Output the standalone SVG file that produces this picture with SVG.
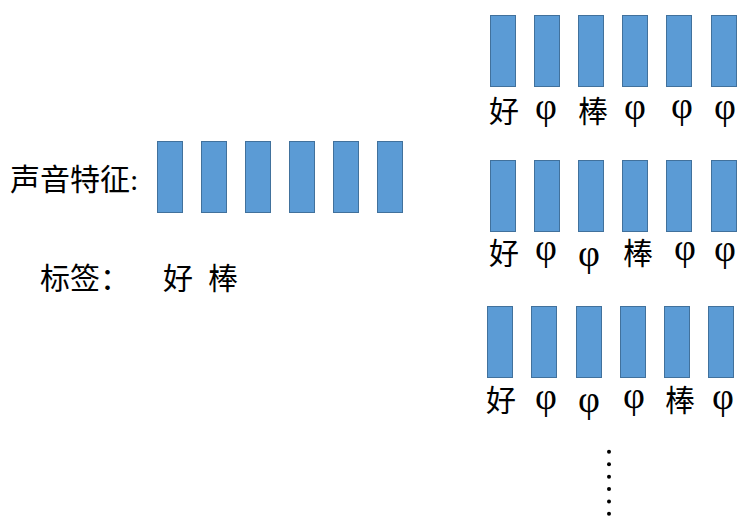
<svg xmlns="http://www.w3.org/2000/svg" width="753" height="528" viewBox="0 0 753 528">
<style>
.bar{fill:#5B9BD5;stroke:#41719C;stroke-width:1}
.t{font-family:"Liberation Serif","Noto Sans CJK SC",serif;font-size:30px;fill:#000}
.p{font-size:38px}
.c{text-anchor:middle}
.dot{fill:#000}
</style>
<rect width="753" height="528" fill="#fff"/>
<g id="input">
<text class="t" x="10" y="190">声音特征:</text>
<rect class="bar" x="157.5" y="141.5" width="25" height="71"/>
<rect class="bar" x="201.5" y="141.5" width="25" height="71"/>
<rect class="bar" x="245.5" y="141.5" width="25" height="71"/>
<rect class="bar" x="289.5" y="141.5" width="25" height="71"/>
<rect class="bar" x="333.5" y="141.5" width="25" height="71"/>
<rect class="bar" x="377.5" y="141.5" width="25" height="71"/>
<text class="t" x="40" y="289">标签：</text>
<text class="t c" x="178" y="289">好</text>
<text class="t c" x="223" y="289">棒</text>
</g>
<g id="align1">
<rect class="bar" x="490.5" y="15.5" width="25" height="71"/>
<rect class="bar" x="534.5" y="15.5" width="25" height="71"/>
<rect class="bar" x="578.5" y="15.5" width="25" height="71"/>
<rect class="bar" x="622.5" y="15.5" width="25" height="71"/>
<rect class="bar" x="666.5" y="15.5" width="25" height="71"/>
<rect class="bar" x="711.5" y="15.5" width="25" height="71"/>
<text class="t c" x="504" y="122">好</text>
<text class="t p c" x="546" y="119">φ</text>
<text class="t c" x="593" y="122">棒</text>
<text class="t p c" x="635" y="119">φ</text>
<text class="t p c" x="682" y="118">φ</text>
<text class="t p c" x="725" y="119">φ</text>
</g>
<g id="align2">
<rect class="bar" x="490.5" y="160.5" width="25" height="71"/>
<rect class="bar" x="534.5" y="160.5" width="25" height="71"/>
<rect class="bar" x="578.5" y="160.5" width="25" height="71"/>
<rect class="bar" x="622.5" y="160.5" width="25" height="71"/>
<rect class="bar" x="666.5" y="160.5" width="25" height="71"/>
<rect class="bar" x="711.5" y="160.5" width="25" height="71"/>
<text class="t c" x="504" y="264">好</text>
<text class="t p c" x="546" y="260">φ</text>
<text class="t p c" x="589" y="266">φ</text>
<text class="t c" x="638" y="264">棒</text>
<text class="t p c" x="685" y="260">φ</text>
<text class="t p c" x="725" y="261">φ</text>
</g>
<g id="align3">
<rect class="bar" x="487.5" y="306.5" width="25" height="71"/>
<rect class="bar" x="531.5" y="306.5" width="25" height="71"/>
<rect class="bar" x="576.5" y="306.5" width="25" height="71"/>
<rect class="bar" x="620.5" y="306.5" width="25" height="71"/>
<rect class="bar" x="664.5" y="306.5" width="25" height="71"/>
<rect class="bar" x="708.5" y="306.5" width="25" height="71"/>
<text class="t c" x="501" y="411">好</text>
<text class="t p c" x="546" y="409">φ</text>
<text class="t p c" x="589" y="412">φ</text>
<text class="t p c" x="634" y="408">φ</text>
<text class="t c" x="680" y="411">棒</text>
<text class="t p c" x="723" y="409">φ</text>
</g>
<g id="ellipsis">
<circle class="dot" cx="609" cy="451.7" r="2"/>
<circle class="dot" cx="609" cy="464.2" r="2"/>
<circle class="dot" cx="609" cy="476.7" r="2"/>
<circle class="dot" cx="609" cy="489.1" r="2"/>
<circle class="dot" cx="609" cy="501.4" r="2"/>
<circle class="dot" cx="609" cy="513.8" r="2"/>
</g>
</svg>
